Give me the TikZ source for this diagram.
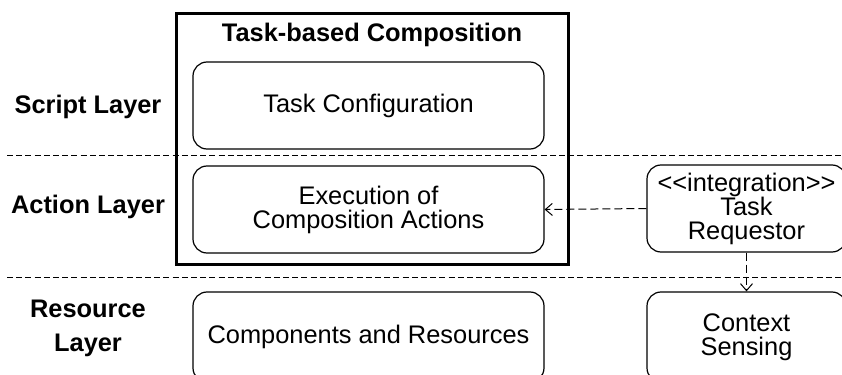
\documentclass[tikz,border=0pt]{standalone}
\usepackage{fontspec}
\setmainfont{Liberation Sans}[Ligatures=TeXOff]
\usetikzlibrary{arrows.meta}
\begin{document}
\begin{tikzpicture}[x=0.5pt,y=-0.5pt,
  every node/.style={font=\fontsize{12.7pt}{12pt}\selectfont, align=center, inner sep=0pt},
  rbox/.style={draw, line width=0.6pt, rounded corners=7pt, minimum width=175.5pt, minimum height=43.5pt},
  sbox/.style={draw, line width=0.6pt, rounded corners=7pt, minimum width=99.5pt, minimum height=43.5pt},
  layerlbl/.style={font=\fontsize{12.7pt}{17pt}\selectfont\bfseries},
  divider/.style={line width=0.5pt, dash pattern=on 3pt off 1.6pt},
  dasharrow/.style={line width=0.5pt, dash pattern=on 4pt off 2pt, -{Straight Barb[length=3.5pt,width=6pt]}}
]
\useasboundingbox (0,0) rectangle (842,375);
\clip (0,0) rectangle (842,375);
% dividers
\draw[divider] (7,155) -- (842,155);
\draw[divider] (7,277) -- (842,277);
% container
\node[draw, line width=1.5pt, minimum width=196pt, minimum height=125.5pt] (outer) at (372,138.5) {};
\node[font=\fontsize{12.7pt}{12pt}\selectfont\bfseries] (title) at (372,35) {Task-based Composition};
% boxes
\node[rbox] (cfg) at (368.5,105.5) {Task Configuration};
\node[rbox] (exe) at (368.5,209.5) {Execution of\\Composition Actions};
\node[rbox, minimum height=45pt] (comp) at (368.5,337) {Components and Resources};
\node[sbox] (req) at (746.5,208.5) {<<integration>>\\Task\\Requestor};
\node[sbox, minimum height=45pt] (ctx) at (746.5,337) {Context\\Sensing};
% labels
\node[layerlbl] (l1) at (88,107) {Script Layer};
\node[layerlbl] (l2) at (88,207) {Action Layer};
\node[layerlbl] (l3) at (88,328) {Resource\\Layer};
% connectors
\draw[dasharrow] (req.west) -- (exe.east);
\draw[dasharrow] (req.south) -- (ctx.north);
\end{tikzpicture}
\end{document}
